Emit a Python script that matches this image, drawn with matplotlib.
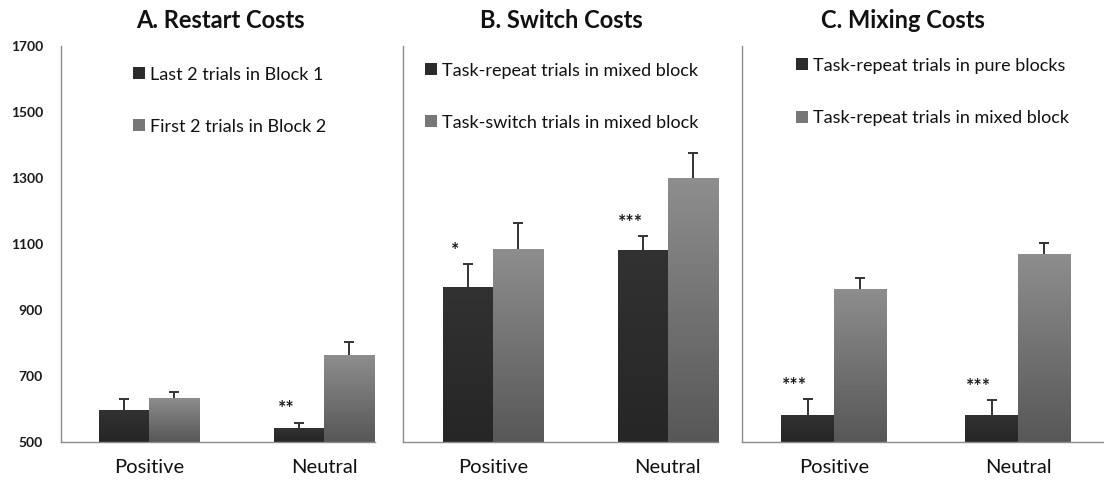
import numpy as np
import matplotlib
matplotlib.use("Agg")
import matplotlib.pyplot as plt
from matplotlib.patches import Patch
from matplotlib.colors import LinearSegmentedColormap

plt.rcParams['font.family'] = ['Lato', 'DejaVu Sans']

conditions = ["Positive", "Neutral"]
yticks = [500, 700, 900, 1100, 1300, 1500, 1700]

titles = ["A. Restart Costs", "B. Switch Costs", "C. Mixing Costs"]
legend_labels = [
    ["Last 2 trials in Block 1", "First 2 trials in Block 2"],
    ["Task-repeat trials in mixed block", "Task-switch trials in mixed block"],
    ["Task-repeat trials in pure blocks", "Task-repeat trials in mixed block"],
]

# mean RT (ms) per panel: [dark series, light series], each [Positive, Neutral]
restart_dark = [597, 542]
restart_light = [634, 764]
restart_dark_err = [34, 16]
restart_light_err = [18, 40]

switch_dark = [971, 1083]
switch_light = [1086, 1299]
switch_dark_err = [67, 40]
switch_light_err = [79, 76]

mixing_dark = [583, 583]
mixing_light = [965, 1071]
mixing_dark_err = [47, 44]
mixing_light_err = [33, 33]

# significance marks on the dark bars
restart_stars = ["", "**"]
switch_stars = ["*", "***"]
mixing_stars = ["***", "***"]

panels = [
    (restart_dark, restart_light, restart_dark_err, restart_light_err, restart_stars),
    (switch_dark, switch_light, switch_dark_err, switch_light_err, switch_stars),
    (mixing_dark, mixing_light, mixing_dark_err, mixing_light_err, mixing_stars),
]

dark_cmap = LinearSegmentedColormap.from_list("dark", ["#323232", "#262626"])
light_cmap = LinearSegmentedColormap.from_list("light", ["#8e8e8e", "#575757"])
grad = np.linspace(0, 1, 256).reshape(-1, 1)


def gradient_bars(ax, bars, cmap):
    for b in bars:
        x0, y0 = b.get_x(), b.get_y()
        x1, y1 = x0 + b.get_width(), y0 + b.get_height()
        im = ax.imshow(grad, cmap=cmap, extent=[x0, x1, y0, y1],
                       aspect='auto', origin='upper', zorder=2)
        im.set_clip_path(b)


def upper_err(ax, xs, ys, errs):
    _, caps, _ = ax.errorbar(xs, ys, yerr=[np.zeros(len(errs)), errs],
                             fmt='none', ecolor="#333333", elinewidth=1.4,
                             capsize=3.5, capthick=1.4, zorder=3)
    caps[0].set_visible(False)  # no cap at the bar top


def main():
    fig = plt.figure(figsize=(11.04, 4.83), dpi=100)
    boxes = [(0.0553, 0.2844), (0.3650, 0.2853), (0.6721, 0.3279)]
    xlims = [(-0.503, 1.291), (-0.514, 1.286), (-0.50, 1.467)]
    title_x = [220 / 1104, 561 / 1104, 903 / 1104]
    leg_pos = [(0.229, 0.948), (0.070, 0.958), (0.149, 0.970)]
    w = 0.286
    x = np.arange(len(conditions))

    for i, (dark, light, derr, lerr, stars) in enumerate(panels):
        ax = fig.add_axes([boxes[i][0], 0.0849, boxes[i][1], 0.82])
        b1 = ax.bar(x - w / 2, np.array(dark) - 500, w, bottom=500,
                    color="#2b2b2b", zorder=1)
        b2 = ax.bar(x + w / 2, np.array(light) - 500, w, bottom=500,
                    color="#737373", zorder=1)
        gradient_bars(ax, b1, dark_cmap)
        gradient_bars(ax, b2, light_cmap)
        upper_err(ax, x - w / 2, dark, derr)
        upper_err(ax, x + w / 2, light, lerr)
        for xi, d, e, s in zip(x, dark, derr, stars):
            if s:
                ax.text(xi - w / 2 - 0.07, d + e + 42, s, ha='center',
                        va='center', fontsize=14, fontweight='bold',
                        color="#1a1a1a")

        ax.set_xlim(*xlims[i])
        ax.set_ylim(500, 1700)
        ax.set_yticks(yticks)
        ax.set_xticks(x)
        ax.set_xticklabels(conditions, fontsize=14.5, color="#111111")
        ax.tick_params(axis='x', length=0, pad=12)
        if i == 0:
            ax.tick_params(axis='y', length=0, pad=13, labelsize=10,
                           labelcolor="#1a1a1a")
            for t in ax.get_yticklabels():
                t.set_fontweight('bold')
        else:
            ax.tick_params(axis='y', length=0, labelleft=False)
        for side in ['top', 'right']:
            ax.spines[side].set_visible(False)
        for side in ['left', 'bottom']:
            ax.spines[side].set_color("#8c8c8c")
            ax.spines[side].set_linewidth(1)

        handles = [Patch(facecolor="#2b2b2b"), Patch(facecolor="#777777")]
        ax.legend(handles, legend_labels[i], loc='upper left',
                  bbox_to_anchor=leg_pos[i], frameon=False, fontsize=13,
                  handlelength=0.65, handleheight=0.65, handletextpad=0.3,
                  labelspacing=2.0, borderpad=0, borderaxespad=0,
                  labelcolor="#111111")

        fig.text(title_x[i], 1 - 20 / 483, titles[i], ha='center',
                 va='center', fontsize=17, fontweight='bold',
                 color="#111111")

    fig.savefig("out.png", dpi=100)


if __name__ == "__main__":
    main()
